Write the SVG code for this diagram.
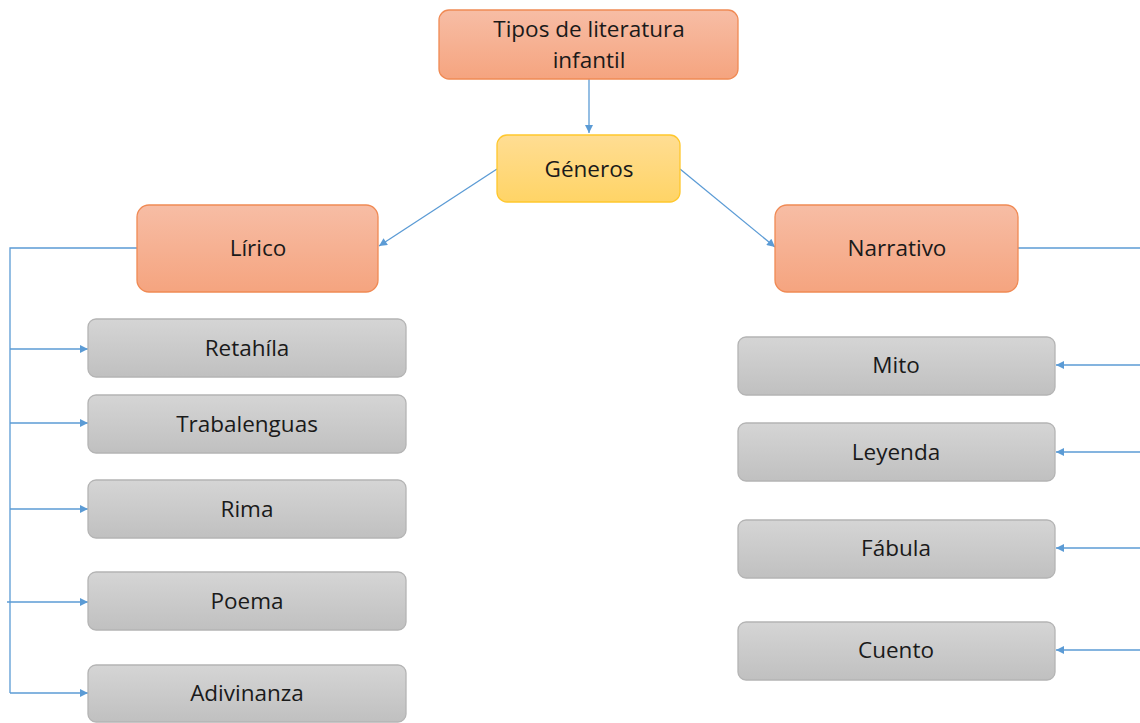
<svg xmlns="http://www.w3.org/2000/svg" width="1140" height="723" viewBox="0 0 1140 723">
<defs>
<linearGradient id="gOr" x1="0" y1="0" x2="0" y2="1"><stop offset="0" stop-color="#f7bda5"/><stop offset="1" stop-color="#f5a47f"/></linearGradient>
<linearGradient id="gYe" x1="0" y1="0" x2="0" y2="1"><stop offset="0" stop-color="#ffdd93"/><stop offset="1" stop-color="#ffd466"/></linearGradient>
<linearGradient id="gGr" x1="0" y1="0" x2="0" y2="1"><stop offset="0" stop-color="#d5d5d5"/><stop offset="1" stop-color="#c0c0c0"/></linearGradient>
<marker id="ar" viewBox="0 0 10 10" refX="10" refY="5" markerWidth="10" markerHeight="8" markerUnits="userSpaceOnUse" orient="auto"><path d="M0,0 L10,5 L0,10 z" fill="#5b9bd5"/></marker>
<style>
.or{fill:url(#gOr);stroke:#f08a54;stroke-width:1.3}
.ye{fill:url(#gYe);stroke:#ffc72c;stroke-width:1.3}
.gr{fill:url(#gGr);stroke:#b4b4b4;stroke-width:1.3}
.t{font-family:"Open Sans","Liberation Sans",sans-serif;font-size:22.5px;fill:#1a1a1a;text-anchor:middle;dominant-baseline:central}
.c{fill:none;stroke:#5b9bd5;stroke-width:1.3}
.ca{fill:none;stroke:#5b9bd5;stroke-width:1.3;marker-end:url(#ar)}
</style>
</defs>
<g id="connectors">
<path class="ca" d="M589,79 V133"/>
<path class="ca" d="M497,169 L379,246"/>
<path class="ca" d="M680,169 L775,247"/>
<path class="c" d="M137,248 H10 V693"/>
<path class="ca" d="M10,349 H88"/>
<path class="ca" d="M10,423 H88"/>
<path class="ca" d="M10,509 H88"/>
<path class="ca" d="M7,602 H88"/>
<path class="ca" d="M10,693 H88"/>
<path class="c" d="M1018,248 H1140"/>
<path class="ca" d="M1140,365 H1056"/>
<path class="ca" d="M1140,452 H1056"/>
<path class="ca" d="M1140,548 H1056"/>
<path class="ca" d="M1140,650 H1056"/>
</g>
<g id="n-tipos"><rect class="or" x="439" y="10" width="299" height="69" rx="10"/><text class="t" x="589" y="28">Tipos de literatura</text><text class="t" x="589" y="59">infantil</text></g>
<g id="n-generos"><rect class="ye" x="497" y="135" width="183" height="67" rx="10"/><text class="t" x="589" y="168">Géneros</text></g>
<g id="n-lirico"><rect class="or" x="137" y="205" width="241" height="87" rx="12"/><text class="t" x="258" y="247">Lírico</text></g>
<g id="n-narrativo"><rect class="or" x="775" y="205" width="243" height="87" rx="12"/><text class="t" x="897" y="247">Narrativo</text></g>
<g id="n-retahila"><rect class="gr" x="88" y="319" width="318" height="58" rx="8"/><text class="t" x="247" y="347">Retahíla</text></g>
<g id="n-trabalenguas"><rect class="gr" x="88" y="395" width="318" height="58" rx="8"/><text class="t" x="247" y="423">Trabalenguas</text></g>
<g id="n-rima"><rect class="gr" x="88" y="480" width="318" height="58" rx="8"/><text class="t" x="247" y="508">Rima</text></g>
<g id="n-poema"><rect class="gr" x="88" y="572" width="318" height="58" rx="8"/><text class="t" x="247" y="600">Poema</text></g>
<g id="n-adivinanza"><rect class="gr" x="88" y="665" width="318" height="57" rx="8"/><text class="t" x="247" y="692">Adivinanza</text></g>
<g id="n-mito"><rect class="gr" x="738" y="337" width="317" height="58" rx="8"/><text class="t" x="896" y="364">Mito</text></g>
<g id="n-leyenda"><rect class="gr" x="738" y="423" width="317" height="58" rx="8"/><text class="t" x="896" y="451">Leyenda</text></g>
<g id="n-fabula"><rect class="gr" x="738" y="520" width="317" height="58" rx="8"/><text class="t" x="896" y="547">Fábula</text></g>
<g id="n-cuento"><rect class="gr" x="738" y="622" width="317" height="58" rx="8"/><text class="t" x="896" y="649">Cuento</text></g>
</svg>
